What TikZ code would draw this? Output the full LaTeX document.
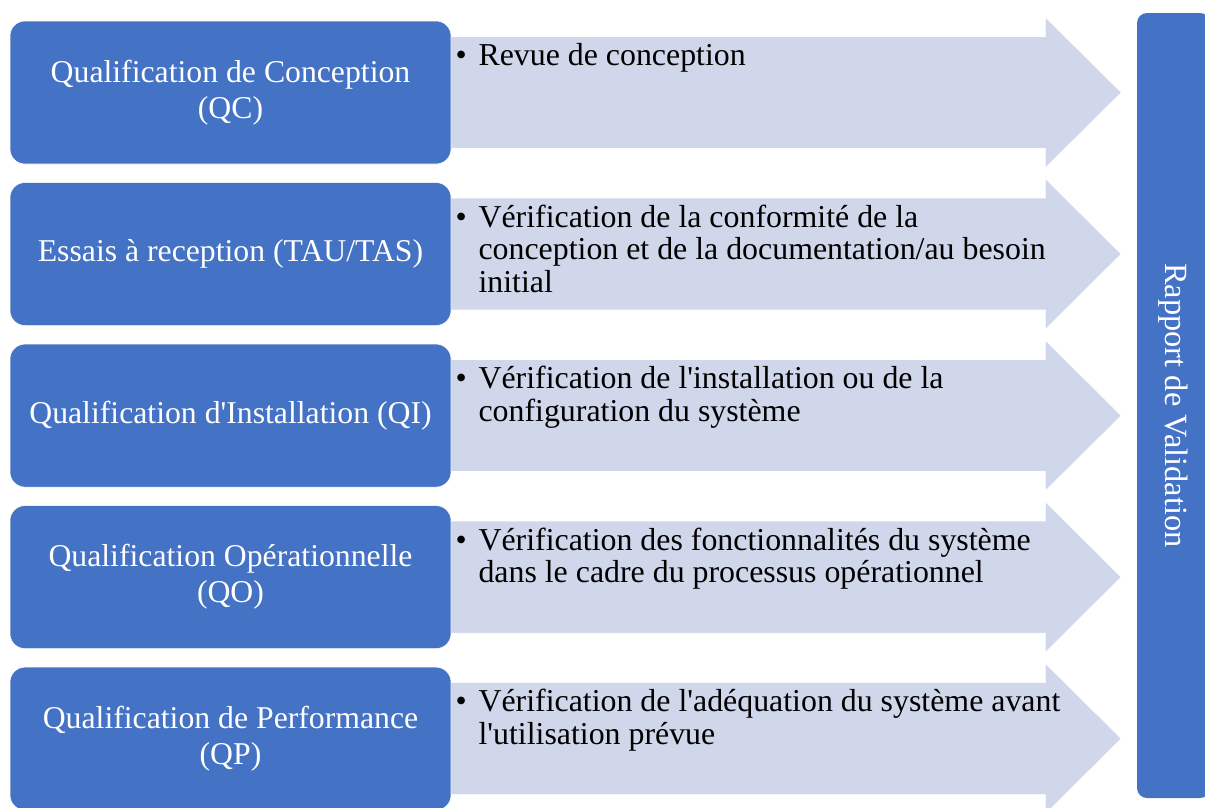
\documentclass[tikz,border=0pt]{standalone}
\usepackage{fontspec}
\setmainfont{Liberation Serif}
\usetikzlibrary{positioning, calc, backgrounds}
\definecolor{qblue}{HTML}{4472C4}
\definecolor{qlight}{HTML}{D0D7EA}
\tikzset{x=0.75pt, y=-0.75pt, % one unit is one pixel of the page, y runs down
phase/.style={draw=white, fill=qblue, rounded corners=11.25pt, minimum width=330.75pt, minimum height=107.25pt, text=white, align=center, font=\fontsize{23.8}{27}\selectfont}, % blue step boxes on the left
detail/.style={inner sep=0pt, anchor=base west, font=\fontsize{23.9}{24.4}\selectfont}, % bullet text on the arrows
flow/.style={fill=qlight, draw=white, line width=0.5pt}, % light arrows behind the text
report/.style={fill=qblue, rounded corners=7.5pt, minimum width=588.75pt, minimum height=54.75pt, text=white, font=\fontsize{24.3}{28}\selectfont}, % tall box on the right
node distance=13.5pt, % gap between two step boxes
}
\newcommand{\bul}{\makebox[17.25pt][l]{\textbullet}}
\newcommand{\apo}{\textquotesingle}

\begin{document}
\begin{tikzpicture}
  \useasboundingbox (0,0) rectangle (1205,807);

  \node[phase] (qc) at (230.5,92.5) {Qualification de Conception\\(QC)};
  \node[phase, below=of qc] (tau) {Essais à reception (TAU/TAS)};
  \node[phase, below=of tau] (qi) {Qualification d\apo Installation (QI)};
  \node[phase, below=of qi] (qo) {Qualification Opérationnelle\\(QO)};
  \node[phase, below=of qo] (qp) {Qualification de Performance\\(QP)};

  % arrows go behind the boxes
  \begin{scope}[on background layer]
    \foreach \b in {qc, tau, qi, qo, qp}
      \fill[flow] ($(\b.east)+(-11,-56)$) -- ++(605,0) -- ++(0,-19.5) -- ++(76,75.5)
        -- ++(-76,75.5) -- ++(0,-19.5) -- ++(-605,0) -- cycle;
  \end{scope}

  \node[detail] (qc-txt) at ($(qc.north east)+(4,45)$) {\bul\parbox[t]{520pt}{Revue de conception}};
  \node[detail] (tau-txt) at ($(tau.north east)+(4,45)$) {\bul\parbox[t]{520pt}{Vérification de la conformité de la\\conception et de la documentation/au besoin\\initial}};
  \node[detail] (qi-txt) at ($(qi.north east)+(4,45)$) {\bul\parbox[t]{520pt}{Vérification de l\apo installation ou de la\\configuration du système}};
  \node[detail] (qo-txt) at ($(qo.north east)+(4,45)$) {\bul\parbox[t]{520pt}{Vérification des fonctionnalités du système\\dans le cadre du processus opérationnel}};
  \node[detail] (qp-txt) at ($(qp.north east)+(4,45)$) {\bul\parbox[t]{520pt}{Vérification de l\apo adéquation du système avant\\l\apo utilisation prévue}};

  \node[report, rotate=-90] (rv) at (1173.5,405.5) {Rapport de Validation};
\end{tikzpicture}
\end{document}
